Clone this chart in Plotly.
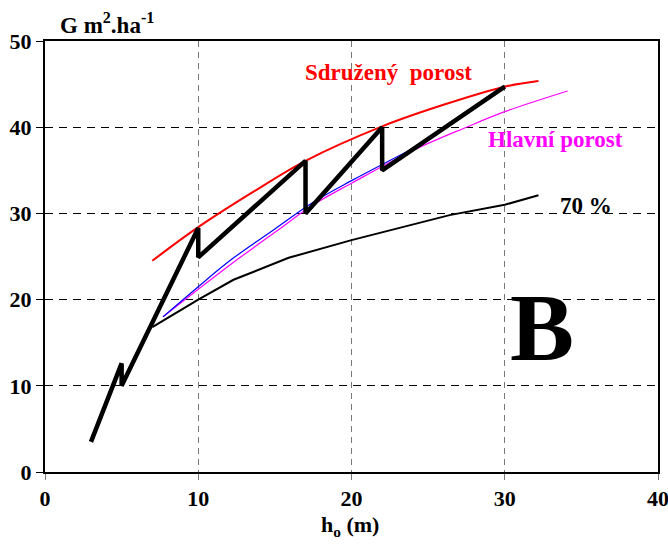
import plotly.graph_objects as go

# Basal area (G, m2/ha) against top height (h_o, m)

# Thinning regime: saw-tooth of the managed stand
regime_h = [3.0, 5.0, 5.0, 10.0, 10.0, 17.0, 17.0, 22.0, 22.0, 30.0]
regime_g = [3.5, 12.6, 10.0, 28.3, 24.9, 36.1, 30.0, 40.0, 35.0, 44.7]

# Combined stand (Sdružený porost)
combined_h = [7.0, 10.0, 13.5, 17.0, 22.0, 26.0, 30.0, 32.2]
combined_g = [24.5, 28.4, 32.4, 36.1, 40.1, 42.6, 44.7, 45.35]

# Main stand (Hlavní porost)
main_h = [7.7, 10.0, 12.2, 15.0, 17.5, 20.0, 24.0, 27.5, 30.0, 34.1]
main_g = [18.0, 21.2, 24.2, 27.8, 31.0, 33.5, 37.3, 40.0, 41.8, 44.2]

# Main stand, alternative course
alt_h = [7.7, 10.0, 12.2, 15.0, 17.5, 20.0, 24.3]
alt_g = [18.0, 21.5, 24.7, 28.2, 31.3, 33.8, 37.8]

# 70 % of the reference basal area
p70_h = [7.0, 10.0, 12.3, 15.9, 20.0, 26.4, 30.0, 32.2]
p70_g = [16.8, 20.0, 22.3, 24.85, 26.9, 29.8, 31.0, 32.1]

x_ticks = [0, 10, 20, 30, 40]
y_ticks = [0, 10, 20, 30, 40, 50]

SERIF = "Liberation Serif"

fig = go.Figure()
fig.add_trace(go.Scatter(x=p70_h, y=p70_g, mode="lines",
                         line=dict(color="black", width=2)))
fig.add_trace(go.Scatter(x=main_h, y=main_g, mode="lines",
                         line=dict(color="#ff00ff", width=1.2, shape="spline")))
fig.add_trace(go.Scatter(x=alt_h, y=alt_g, mode="lines",
                         line=dict(color="#0000ff", width=1.2, shape="spline")))
fig.add_trace(go.Scatter(x=combined_h, y=combined_g, mode="lines",
                         line=dict(color="#ff0000", width=2, shape="spline")))
fig.add_trace(go.Scatter(x=regime_h, y=regime_g, mode="lines",
                         line=dict(color="black", width=4.5)))

fig.update_layout(
    width=668, height=550,
    margin=dict(l=45, r=10, t=41, b=78),
    paper_bgcolor="white", plot_bgcolor="white",
    showlegend=False,
    font=dict(family=SERIF, color="black"),
    xaxis=dict(
        range=[0, 40], tickvals=x_ticks, automargin=False,
        ticklabeloverflow="allow",
        showgrid=True, gridcolor="#777777", gridwidth=1.3, griddash="6px,5px",
        showline=True, linecolor="black", linewidth=1.5, mirror=True,
        ticks="outside", ticklen=6, tickcolor="#777777", tickwidth=1.3,
        tickfont=dict(family=SERIF, size=22, weight="bold"),
        zeroline=False,
    ),
    yaxis=dict(
        range=[0, 50], tickvals=y_ticks, automargin=False,
        ticklabeloverflow="allow",
        showgrid=True, gridcolor="black", gridwidth=1, griddash="8px,6px",
        showline=True, linecolor="black", linewidth=2, mirror=True,
        ticks="outside", ticklen=7, tickcolor="black", tickwidth=1,
        tickfont=dict(family=SERIF, size=22, weight="bold"),
        zeroline=False,
    ),
)

fig.add_annotation(text="G m<sup>2</sup>.ha<sup>-1</sup>", xref="paper", yref="paper",
                   x=0.022, y=1.0, xanchor="left", yanchor="bottom", yshift=1,
                   showarrow=False, font=dict(family=SERIF, size=23, weight="bold"))
fig.add_annotation(text="h<sub>o</sub> (m)", xref="paper", yref="paper",
                   x=0.498, y=0, xanchor="center", yanchor="top", yshift=-38,
                   showarrow=False, font=dict(family=SERIF, size=22, weight="bold"))

fig.add_annotation(text="Sdružený  porost", x=22.4, y=46.4, showarrow=False,
                   font=dict(family=SERIF, size=23, color="#ff0000", weight="bold"))
fig.add_annotation(text="Hlavní porost", x=33.3, y=38.6, showarrow=False,
                   font=dict(family=SERIF, size=23, color="#ff00ff", weight="bold"))
fig.add_annotation(text="70 %", x=35.3, y=30.9, showarrow=False,
                   font=dict(family=SERIF, size=23, color="black", weight="bold"))
fig.add_annotation(text="B", x=32.4, y=16.8, showarrow=False,
                   font=dict(family=SERIF, size=96, color="black", weight="bold"))

fig.write_html("out.html")
